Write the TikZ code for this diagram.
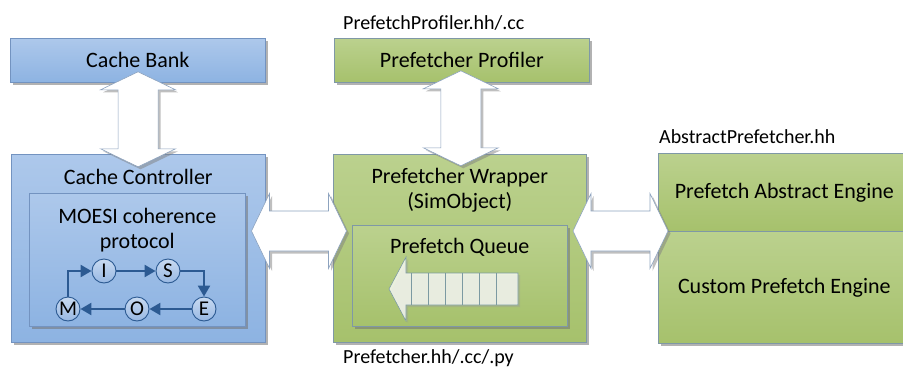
\documentclass[tikz,border=0pt]{standalone}
\usepackage{fontspec}
\setmainfont{Carlito}
\usetikzlibrary{shadows,arrows.meta,calc}

\definecolor{blueTop}{HTML}{ADC8EB}
\definecolor{blueBot}{HTML}{8DB3E2}
\definecolor{greenTop}{HTML}{BBD18E}
\definecolor{greenBot}{HTML}{A6C16C}
\definecolor{blueEdge}{HTML}{7393C0}
\definecolor{greenEdge}{HTML}{7F98A6}
\definecolor{arrowEdge}{HTML}{8DA3BF}
\definecolor{stateBlue}{HTML}{2C5A92}
\definecolor{stateTop}{HTML}{C8DAF1}
\definecolor{stateBot}{HTML}{98B8E3}
\definecolor{queueEdge}{HTML}{7C9AA2}

\tikzset{
  shadowed/.style={drop shadow={shadow xshift=3pt,shadow yshift=-3pt,fill=black!55,opacity=.55}},
  bluebox/.style={draw=blueEdge,line width=0.6pt,top color=blueTop,bottom color=blueBot,shadowed,
    rectangle,inner sep=0pt,anchor=north west},
  greenbox/.style={draw=greenEdge,line width=0.6pt,top color=greenTop,bottom color=greenBot,shadowed,
    rectangle,inner sep=0pt,anchor=north west},
  boxtext/.style={inner sep=0pt,font=\fontsize{22}{26}\selectfont},
  filetext/.style={inner sep=0pt,anchor=west,font=\fontsize{20}{24}\selectfont},
  blockarrow/.style={draw=arrowEdge,line width=0.6pt,fill=white,
    drop shadow={shadow xshift=2.5pt,shadow yshift=-2.5pt,fill=black!50,opacity=.5}},
  state/.style={circle,minimum size=24pt,inner sep=0pt,draw=stateBlue,line width=0.9pt,
    top color=stateTop,bottom color=stateBot,font=\fontsize{21}{24}\selectfont},
  trans/.style={draw=stateBlue,line width=2.4pt,-{Triangle[length=11pt,width=12pt]}},
  pics/dblarrow/.style={code={
    \draw[blockarrow] (0,-47.5) -- (37.5,-29.5) -- (20,-29.5) -- (20,29.5) -- (37.5,29.5)
      -- (0,47.5) -- (-37.5,29.5) -- (-20,29.5) -- (-20,-29.5) -- (-37.5,-29.5) -- cycle;}}
}

\begin{document}
\begin{tikzpicture}[x=1pt,y=-1pt]
\useasboundingbox (0,0) rectangle (903,370);

% left column: cache side
\node[bluebox,minimum width=255pt,minimum height=44pt] (bank) at (10,38) {};
\node[boxtext] at (bank.center) {Cache Bank};
\node[bluebox,minimum width=254pt,minimum height=188pt] (ctrl) at (11,154) {};
\node[boxtext] at ($(ctrl.north)+(0,23)$) {Cache Controller};
\node[bluebox,minimum width=216pt,minimum height=133pt] (moesi) at (29,193) {};
\node[boxtext,align=center] at ($(moesi.north)+(0,37)$) {MOESI coherence\\[-1pt]protocol};

% coherence states
\node[state] (I) at (104,271) {I};
\node[state] (S) at (168,271) {S};
\node[state] (M) at (68,309) {M};
\node[state] (O) at (137,309) {O};
\node[state] (E) at (204,309) {E};
\draw[trans] (M.north) |- (I.west);
\draw[trans] (I.east) -- (S.west);
\draw[trans] (S.east) -| (E.north);
\draw[trans] (E.west) -- (O.east);
\draw[trans] (O.west) -- (M.east);

% middle column: prefetcher
\node[greenbox,minimum width=255pt,minimum height=44pt] (prof) at (334,38) {};
\node[boxtext] at (prof.center) {Prefetcher Profiler};
\node[greenbox,minimum width=253pt,minimum height=188pt] (wrap) at (333,154) {};
\node[boxtext,align=center] at ($(wrap.north)+(0,36)$) {Prefetcher Wrapper\\[-1pt](SimObject)};
\node[greenbox,minimum width=215pt,minimum height=101pt] (queue) at (352,225) {};
\node[boxtext] (qlabel) at ($(queue.north)+(0,22)$) {Prefetch Queue};

% queue drawn as a segmented arrow
\coordinate (qtip) at (389,289);
\draw[draw=queueEdge,line width=0.6pt,fill=white,fill opacity=.75,
      drop shadow={shadow xshift=2pt,shadow yshift=-2pt,fill=black!40,opacity=.35}]
  (qtip) -- ++(17,-32) -- ++(0,16) -- ++(112,0) -- ++(0,32) -- ++(-112,0) -- ++(0,16) -- cycle;
\foreach \dx in {22,39,56,73,90,107}
  \draw[queueEdge,line width=0.6pt] ($(qtip)+(\dx,-16)$) -- ++(0,32);

% right column: engines
\node[greenbox,minimum width=252pt,minimum height=78pt] (abs) at (658,153) {};
\node[boxtext] at (abs.center) {Prefetch Abstract Engine};
\node[greenbox,minimum width=252pt,minimum height=112pt] (cust) at (658,231) {};
\node[boxtext] at (cust.center) {Custom Prefetch Engine};

% file labels
\node[filetext] (lprof) at (343,23) {PrefetchProfiler.hh/.cc};
\node[filetext] (labs) at (659,137) {AbstractPrefetcher.hh};
\node[filetext] (lwrap) at (343,358) {Prefetcher.hh/.cc/.py};

% bidirectional block arrows between the blocks
\coordinate (c1) at ($(bank.south)!0.5!(ctrl.north)+(0,1)$);
\coordinate (c2) at ($(prof.south)!0.5!(wrap.north)+(0,0)$);
\coordinate (c3) at (299,231);
\coordinate (c4) at (620.5,231);
\pic at (c1) {dblarrow};
\pic at (c2) {dblarrow};
\pic[rotate=90] at (c3) {dblarrow};
\pic[rotate=90] at (c4) {dblarrow};
\end{tikzpicture}
\end{document}
